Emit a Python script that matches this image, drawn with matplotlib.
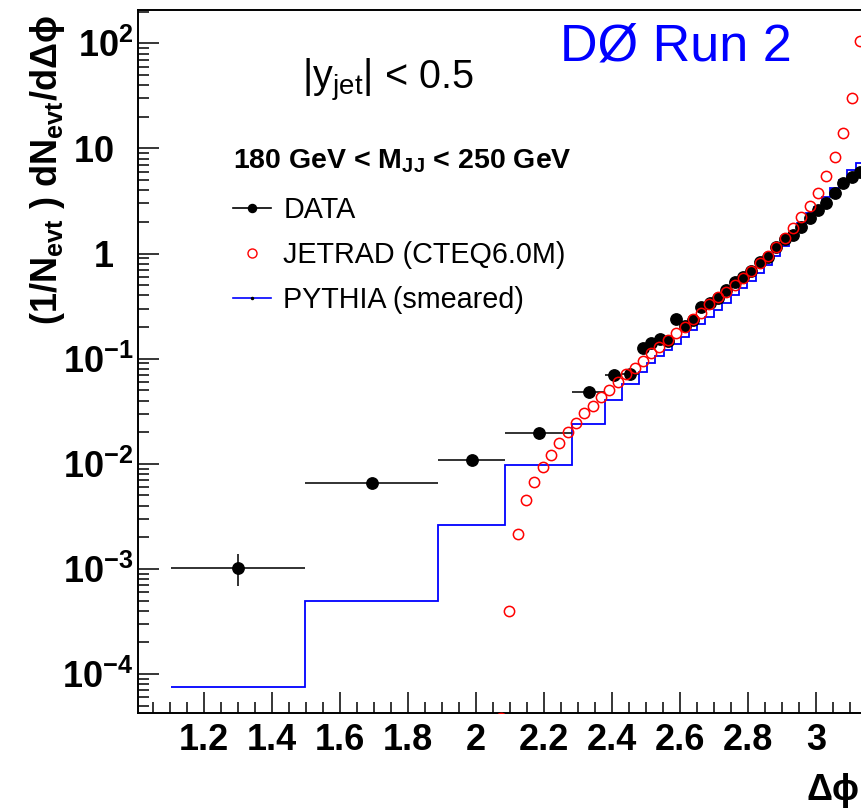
import numpy as np
import matplotlib
matplotlib.use('Agg')
import matplotlib.pyplot as plt
from matplotlib.lines import Line2D
from matplotlib.ticker import FixedLocator, FixedFormatter, LogLocator, MultipleLocator, NullFormatter

plt.rcParams['font.family'] = ['Liberation Sans', 'DejaVu Sans']
plt.rcParams['mathtext.fontset'] = 'custom'
plt.rcParams['mathtext.rm'] = 'Liberation Sans'
plt.rcParams['mathtext.it'] = 'Liberation Sans:italic'
plt.rcParams['mathtext.bf'] = 'Liberation Sans:bold'

# bin edges in delta phi (rad), shared by DATA and PYTHIA
bin_edges = [1.104, 1.497, 1.890, 2.086, 2.283, 2.381, 2.430, 2.479, 2.503,
             2.528, 2.553, 2.577, 2.602, 2.626, 2.651, 2.675, 2.700, 2.724,
             2.749, 2.773, 2.798, 2.823, 2.847, 2.872, 2.896, 2.921, 2.945,
             2.970, 2.994, 3.019, 3.043, 3.068, 3.093, 3.117, 3.1416]

data_vals = [1.02e-3, 6.55e-3, 0.0108, 0.0195, 0.0484, 0.0698, 0.0713, 0.127,
             0.142, 0.153, 0.148, 0.237, 0.204, 0.233, 0.308, 0.340, 0.375,
             0.450, 0.539, 0.594, 0.686, 0.824, 0.933, 1.146, 1.365, 1.50,
             1.80, 2.16, 2.59, 3.04, 3.79, 4.66, 5.38, 6.0]
data_err_lo = [3.3e-4] + [0.0] * 33
data_err_hi = [3.6e-4] + [0.0] * 33

pythia_vals = [7.55e-5, 4.94e-4, 2.63e-3, 9.7e-3, 0.024, 0.0404, 0.0573,
               0.075, 0.0914, 0.105, 0.120, 0.138, 0.160, 0.186, 0.215, 0.25,
               0.29, 0.34, 0.40, 0.47, 0.55, 0.65, 0.77, 0.95, 1.18, 1.5,
               1.95, 2.41, 2.79, 3.47, 4.17, 5.0, 6.2, 7.3]

jetrad_phi = [2.074, 2.098, 2.123, 2.148, 2.172, 2.197, 2.221, 2.246, 2.270,
              2.295, 2.319, 2.344, 2.368, 2.393, 2.418, 2.442, 2.467, 2.491,
              2.516, 2.540, 2.565, 2.589, 2.614, 2.638, 2.663, 2.687, 2.712,
              2.736, 2.761, 2.786, 2.810, 2.835, 2.859, 2.884, 2.908, 2.933,
              2.957, 2.982, 3.007, 3.031, 3.056, 3.080, 3.105, 3.129]
jetrad_vals = [3.8e-5, 3.96e-4, 2.16e-3, 4.49e-3, 6.7e-3, 9.25e-3, 0.0121,
               0.0156, 0.0202, 0.0246, 0.0306, 0.0354, 0.0429, 0.0502, 0.0594,
               0.071, 0.082, 0.0955, 0.112, 0.130, 0.150, 0.174, 0.201, 0.237,
               0.270, 0.331, 0.383, 0.433, 0.501, 0.589, 0.686, 0.807, 0.946,
               1.16, 1.40, 1.74, 2.24, 2.83, 3.79, 5.46, 8.2, 13.9, 30.4, 106]

ytick_vals = [1e-4, 1e-3, 1e-2, 1e-1, 1, 10, 1e2]
ytick_text = [r'$\mathbf{10^{-4}}$', r'$\mathbf{10^{-3}}$', r'$\mathbf{10^{-2}}$',
              r'$\mathbf{10^{-1}}$', '1  ', '10  ', r'$\mathbf{10^{2}}$']

W, H = 862, 810
fig = plt.figure(figsize=(W / 100, H / 100), dpi=100)
ax = fig.add_axes([138.5 / W, 1 - 713.3 / H, (864 - 138.5) / W, (713.3 - 10) / H])

edges = np.array(bin_edges)
centers = 0.5 * (edges[:-1] + edges[1:])
half = 0.5 * (edges[1:] - edges[:-1])

ax.stairs(pythia_vals, edges, baseline=None, color='blue', lw=1.3, zorder=2)
ax.errorbar(centers, data_vals, xerr=half, yerr=[data_err_lo, data_err_hi],
            fmt='o', color='k', ecolor='#222222', ms=8.2, elinewidth=1.3,
            capsize=0, zorder=3)
ax.plot(jetrad_phi, jetrad_vals, 'o', mfc='none', mec='red', ms=7.4, mew=1.1,
        zorder=4)

ax.set_yscale('log')
ax.set_xlim(1.0078, np.pi)
ax.set_ylim(4.23e-5, 207.5)

ax.yaxis.set_major_locator(FixedLocator(ytick_vals))
ax.yaxis.set_major_formatter(FixedFormatter(ytick_text))
ax.yaxis.set_minor_locator(LogLocator(base=10, subs=np.arange(2, 10), numticks=20))
ax.yaxis.set_minor_formatter(NullFormatter())
ax.xaxis.set_major_locator(MultipleLocator(0.2))
ax.xaxis.set_minor_locator(MultipleLocator(0.05))
ax.xaxis.set_major_formatter(plt.FuncFormatter(lambda v, p: f'{v:g}'))

ax.tick_params(which='both', direction='in', top=False, right=False, width=1.1)
ax.tick_params(which='major', length=15)
ax.tick_params(which='minor', length=8)
ax.tick_params(axis='y', which='major', labelsize=26, pad=3.5)
ax.tick_params(axis='x', which='major', labelsize=26, pad=7)
for lab in ax.get_xticklabels() + ax.get_yticklabels():
    lab.set_fontweight('bold')
for sp in ax.spines.values():
    sp.set_linewidth(1.4)

ax.set_ylabel(r'(1/N$_{\mathbf{evt}}$ ) dN$_{\mathbf{evt}}$/d$\mathbf{\Delta\phi}$',
              fontsize=26, fontweight='bold')
ax.yaxis.set_label_coords(-0.0986, 0.7725)
ax.set_xlabel('Δϕ', fontsize=26, fontweight='bold', loc='right')
ax.xaxis.set_label_coords((860 - 138.5) / 725.5, -0.085)

fig.text(560 / W, 1 - 61 / H, 'DØ Run 2', color='blue', fontsize=37.5)
fig.text(301.7 / W, 1 - 89 / H, r'|y$_{\rm jet}$| < 0.5', fontsize=28.5)
fig.text(233.3 / W, 1 - 168.3 / H, r'180 GeV < M$_{\mathbf{JJ}}$ < 250 GeV',
         fontsize=20.5, fontweight='bold')

handles = [
    Line2D([], [], color='k', marker='o', ms=5.8, lw=1.2),
    Line2D([], [], color='red', marker='o', mfc='none', mec='red', ms=6.5, mew=1.0, ls='none'),
    Line2D([], [], color='blue', marker='o', ms=1.5, mfc='k', mec='k', lw=1.2),
]
labels = ['DATA', 'JETRAD (CTEQ6.0M)', 'PYTHIA (smeared)']
ax.legend(handles, labels, loc='upper left',
          bbox_to_anchor=(233 / W, 1 - 196 / H), bbox_transform=fig.transFigure,
          frameon=False, fontsize=20.7, numpoints=1, handlelength=1.33,
          handletextpad=0.42, labelspacing=0.6, borderpad=0, borderaxespad=0)

fig.savefig('out.png', dpi=100)
